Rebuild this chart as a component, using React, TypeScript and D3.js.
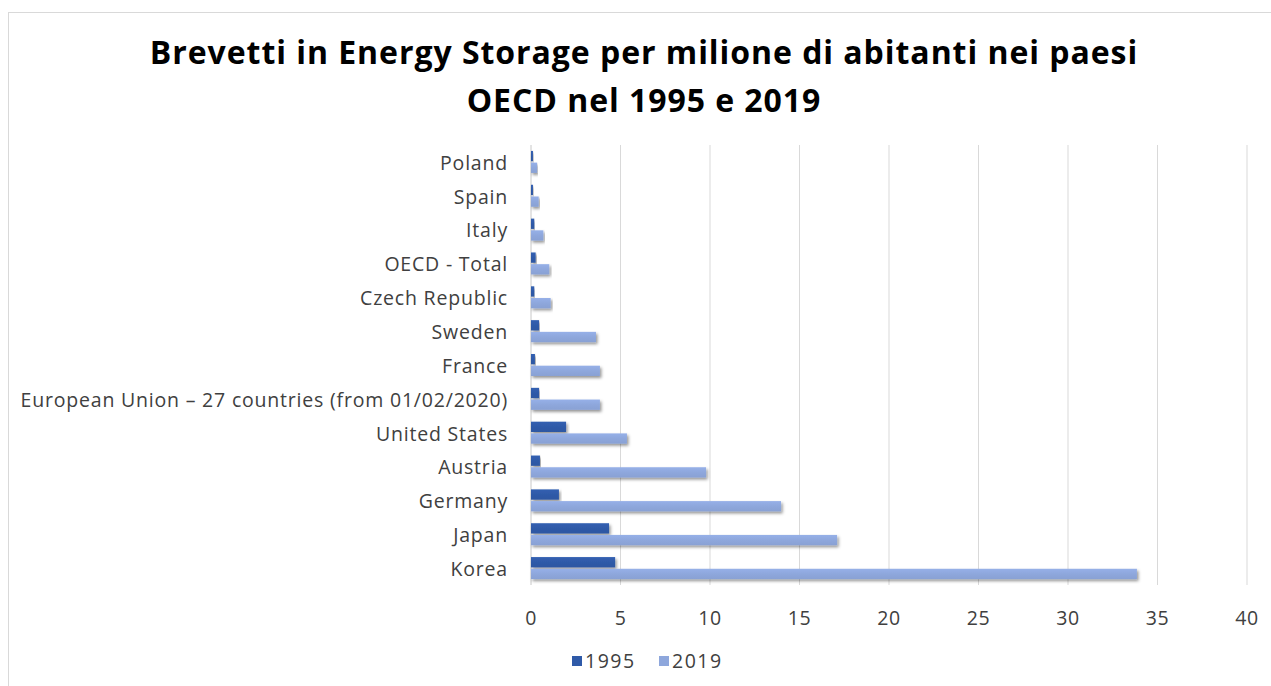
import React from "react";
import * as d3 from "d3";

const WIDTH = 1271;
const HEIGHT = 686;

const countries = [
  "Poland",
  "Spain",
  "Italy",
  "OECD - Total",
  "Czech Republic",
  "Sweden",
  "France",
  "European Union – 27 countries (from 01/02/2020)",
  "United States",
  "Austria",
  "Germany",
  "Japan",
  "Korea",
];

const values1995 = [0.11, 0.11, 0.18, 0.26, 0.18, 0.45, 0.22, 0.45, 1.96, 0.5, 1.56, 4.36, 4.7];
const values2019 = [0.34, 0.43, 0.69, 1.02, 1.1, 3.63, 3.85, 3.85, 5.36, 9.78, 13.97, 17.1, 33.85];

const seriesNames = ["1995", "2019"];
const seriesColors = ["#2f5aa8", "#8ea7dc"];
const xTicks = [0, 5, 10, 15, 20, 25, 30, 35, 40];

const titleLines = [
  "Brevetti in Energy Storage per milione di abitanti nei paesi",
  "OECD nel 1995 e 2019",
];

const FONT = "'Open Sans', 'Noto Sans', sans-serif";

export default function App() {
  const left = 531;
  const right = 1247;
  const top = 145;
  const bottom = 585;

  const x = d3.scaleLinear().domain([0, 40]).range([left, right]);
  const y = d3
    .scaleBand<string>()
    .domain(countries)
    .range([top, bottom])
    .paddingInner(0.35)
    .paddingOuter(0.175);
  const ySub = d3
    .scaleBand<string>()
    .domain(seriesNames)
    .range([0, y.bandwidth()])
    .paddingInner(0.12);

  const series = [values1995, values2019];

  return (
    <svg
      width={WIDTH}
      height={HEIGHT}
      style={{ position: "absolute", left: 0, top: 0, background: "#fff" }}
      fontFamily={FONT}
    >
      <defs>
        <filter id="barShadow" x="-5%" y="-50%" width="115%" height="250%">
          <feDropShadow dx="1.5" dy="2" stdDeviation="1.6" floodColor="#000" floodOpacity="0.42" />
        </filter>
        {seriesColors.map((c, i) => (
          <linearGradient key={i} id={`grad${i}`} x1="0" y1="0" x2="0" y2="1">
            <stop offset="0%" stopColor={d3.color(c)!.brighter(0.15).formatHex()} />
            <stop offset="50%" stopColor={c} />
            <stop offset="100%" stopColor={d3.color(c)!.darker(0.1).formatHex()} />
          </linearGradient>
        ))}
      </defs>

      <rect x={8.5} y={12.5} width={WIDTH} height={HEIGHT} fill="#fff" stroke="#d9d9d9" />

      {titleLines.map((t, i) => (
        <text
          key={i}
          x={644}
          y={64 + i * 48}
          textAnchor="middle"
          fontSize={32}
          fontWeight={700}
          letterSpacing={0.95}
          fill="#000"
        >
          {t}
        </text>
      ))}

      {xTicks.map((t) => (
        <line
          key={t}
          x1={x(t)}
          x2={x(t)}
          y1={top}
          y2={bottom}
          stroke={t === 0 ? "#c8c8c8" : "#d9d9d9"}
          strokeWidth={1}
        />
      ))}

      {countries.map((c, ci) => (
        <g key={c}>
          {series.map((vals, si) => (
            <rect
              key={si}
              x={x(0)}
              y={(y(c) as number) + (ySub(seriesNames[si]) as number)}
              width={x(vals[ci]) - x(0)}
              height={ySub.bandwidth()}
              fill={`url(#grad${si})`}
              filter="url(#barShadow)"
            />
          ))}
          <text
            x={508}
            y={(y(c) as number) + y.bandwidth() / 2 + 1}
            dy="0.35em"
            textAnchor="end"
            fontSize={19.5}
            letterSpacing={0.8}
            fill="#404040"
          >
            {c}
          </text>
        </g>
      ))}

      {xTicks.map((t) => (
        <text
          key={t}
          x={x(t)}
          y={618}
          dy="0.35em"
          textAnchor="middle"
          fontSize={19.5}
          letterSpacing={0.5}
          fill="#404040"
        >
          {t}
        </text>
      ))}

      {seriesNames.map((s, i) => (
        <g key={s} transform={`translate(${572 + i * 87},656)`}>
          <rect x={0} y={0} width={10} height={10} fill={seriesColors[i]} />
          <text x={13} y={5.5} dy="0.35em" fontSize={19.5} letterSpacing={1.5} fill="#404040">
            {s}
          </text>
        </g>
      ))}
    </svg>
  );
}
